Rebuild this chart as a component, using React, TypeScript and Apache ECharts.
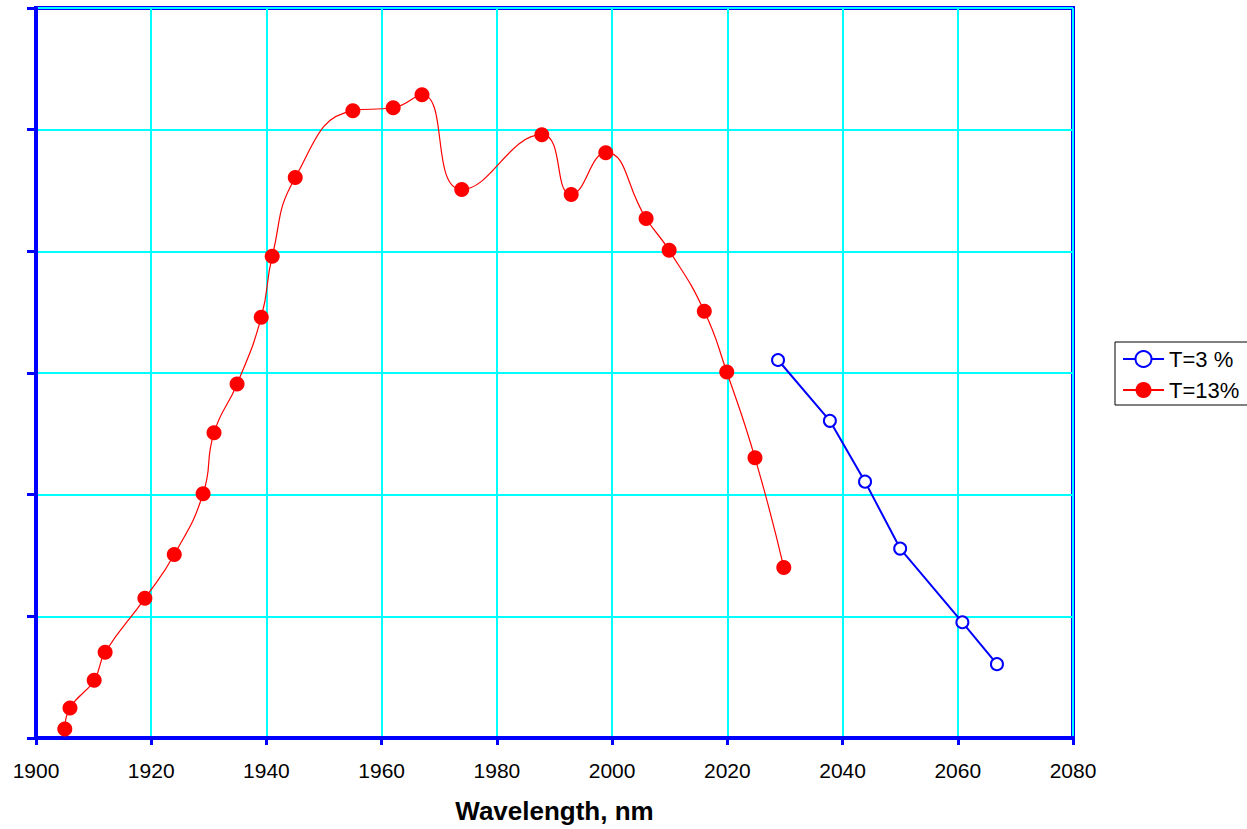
import React, { useEffect, useRef } from "react";
import * as echarts from "echarts";

const xTicks = [1900, 1920, 1940, 1960, 1980, 2000, 2020, 2040, 2060, 2080];

const t13X = [1905.0, 1905.9, 1910.1, 1912.0, 1918.9, 1924.0, 1929.0, 1930.9, 1934.9, 1939.1, 1941.0, 1945.0, 1955.0, 1962.0, 1967.0, 1973.9, 1987.8, 1992.9, 1998.9, 2005.9, 2009.9, 2016.0, 2019.9, 2024.8, 2029.8];
const t13Y = [0.074, 0.246, 0.475, 0.705, 1.148, 1.508, 2.008, 2.508, 2.91, 3.459, 3.959, 4.607, 5.156, 5.18, 5.287, 4.508, 4.959, 4.467, 4.811, 4.27, 4.008, 3.508, 3.008, 2.303, 1.402];

const t3X = [2028.8, 2037.8, 2043.9, 2050.0, 2060.8, 2066.8];
const t3Y = [3.107, 2.607, 2.107, 1.557, 0.951, 0.607];

const FONT = '"Liberation Sans", Arial, sans-serif';

export default function App() {
  const ref = useRef<HTMLDivElement>(null);
  useEffect(() => {
    const chart = echarts.init(ref.current!, null, { renderer: "svg" });
    chart.setOption({
      animation: false,
      backgroundColor: "#ffffff",
      grid: {
        left: 36,
        top: 8,
        right: 174,
        bottom: 89,
        show: true,
        borderColor: "#0000ff",
        borderWidth: 4,
      },
      legend: {
        orient: "vertical",
        left: 1115,
        top: 342,
        padding: [6, 9, 4, 7],
        itemGap: 9,
        itemWidth: 41,
        itemHeight: 20,
        borderColor: "#000000",
        borderWidth: 1,
        borderRadius: 0,
        textStyle: { fontFamily: FONT, fontSize: 22, color: "#000", lineHeight: 22 },
        data: ["T=3 %", "T=13%"],
      },
      xAxis: {
        type: "value",
        min: 1900,
        max: 2080,
        interval: 20,
        name: "Wavelength, nm",
        nameLocation: "middle",
        nameGap: 60,
        nameTextStyle: { fontFamily: FONT, fontSize: 26, fontWeight: "bold", color: "#000" },
        axisLine: { show: true, lineStyle: { color: "#0000ff", width: 4 } },
        axisTick: { show: true, length: 7, lineStyle: { color: "#0000ff", width: 3 } },
        axisLabel: {
          fontFamily: FONT,
          fontSize: 21,
          color: "#000",
          margin: 22,
          formatter: (v: number) => (xTicks.includes(v) ? String(v) : ""),
        },
        splitLine: { show: true, lineStyle: { color: "#00ffff", width: 2 } },
      },
      yAxis: {
        type: "value",
        min: 0,
        max: 6,
        interval: 1,
        axisLine: { show: true, lineStyle: { color: "#0000ff", width: 4 } },
        axisTick: { show: true, length: 9, lineStyle: { color: "#0000ff", width: 3 } },
        axisLabel: { show: false },
        splitLine: { show: true, lineStyle: { color: "#00ffff", width: 2 } },
      },
      series: [
        {
          name: "T=3 %",
          type: "line",
          data: t3X.map((x, i) => [x, t3Y[i]]),
          symbol: "circle",
          symbolSize: 12,
          showAllSymbol: true,
          lineStyle: { color: "#0000ff", width: 2 },
          itemStyle: { color: "#ffffff", borderColor: "#0000ff", borderWidth: 2 },
          z: 3,
        },
        {
          name: "T=13%",
          type: "line",
          data: t13X.map((x, i) => [x, t13Y[i]]),
          smooth: 0.5,
          symbol: "circle",
          symbolSize: 15,
          showAllSymbol: true,
          lineStyle: { color: "#ff0000", width: 1.2 },
          itemStyle: { color: "#ff0000", borderColor: "#ff0000", borderWidth: 0 },
          z: 4,
        },
      ],
    });
    return () => chart.dispose();
  }, []);
  return (
    <div
      ref={ref}
      style={{ position: "fixed", left: 0, top: 0, width: 1247, height: 829, background: "#fff" }}
    />
  );
}
